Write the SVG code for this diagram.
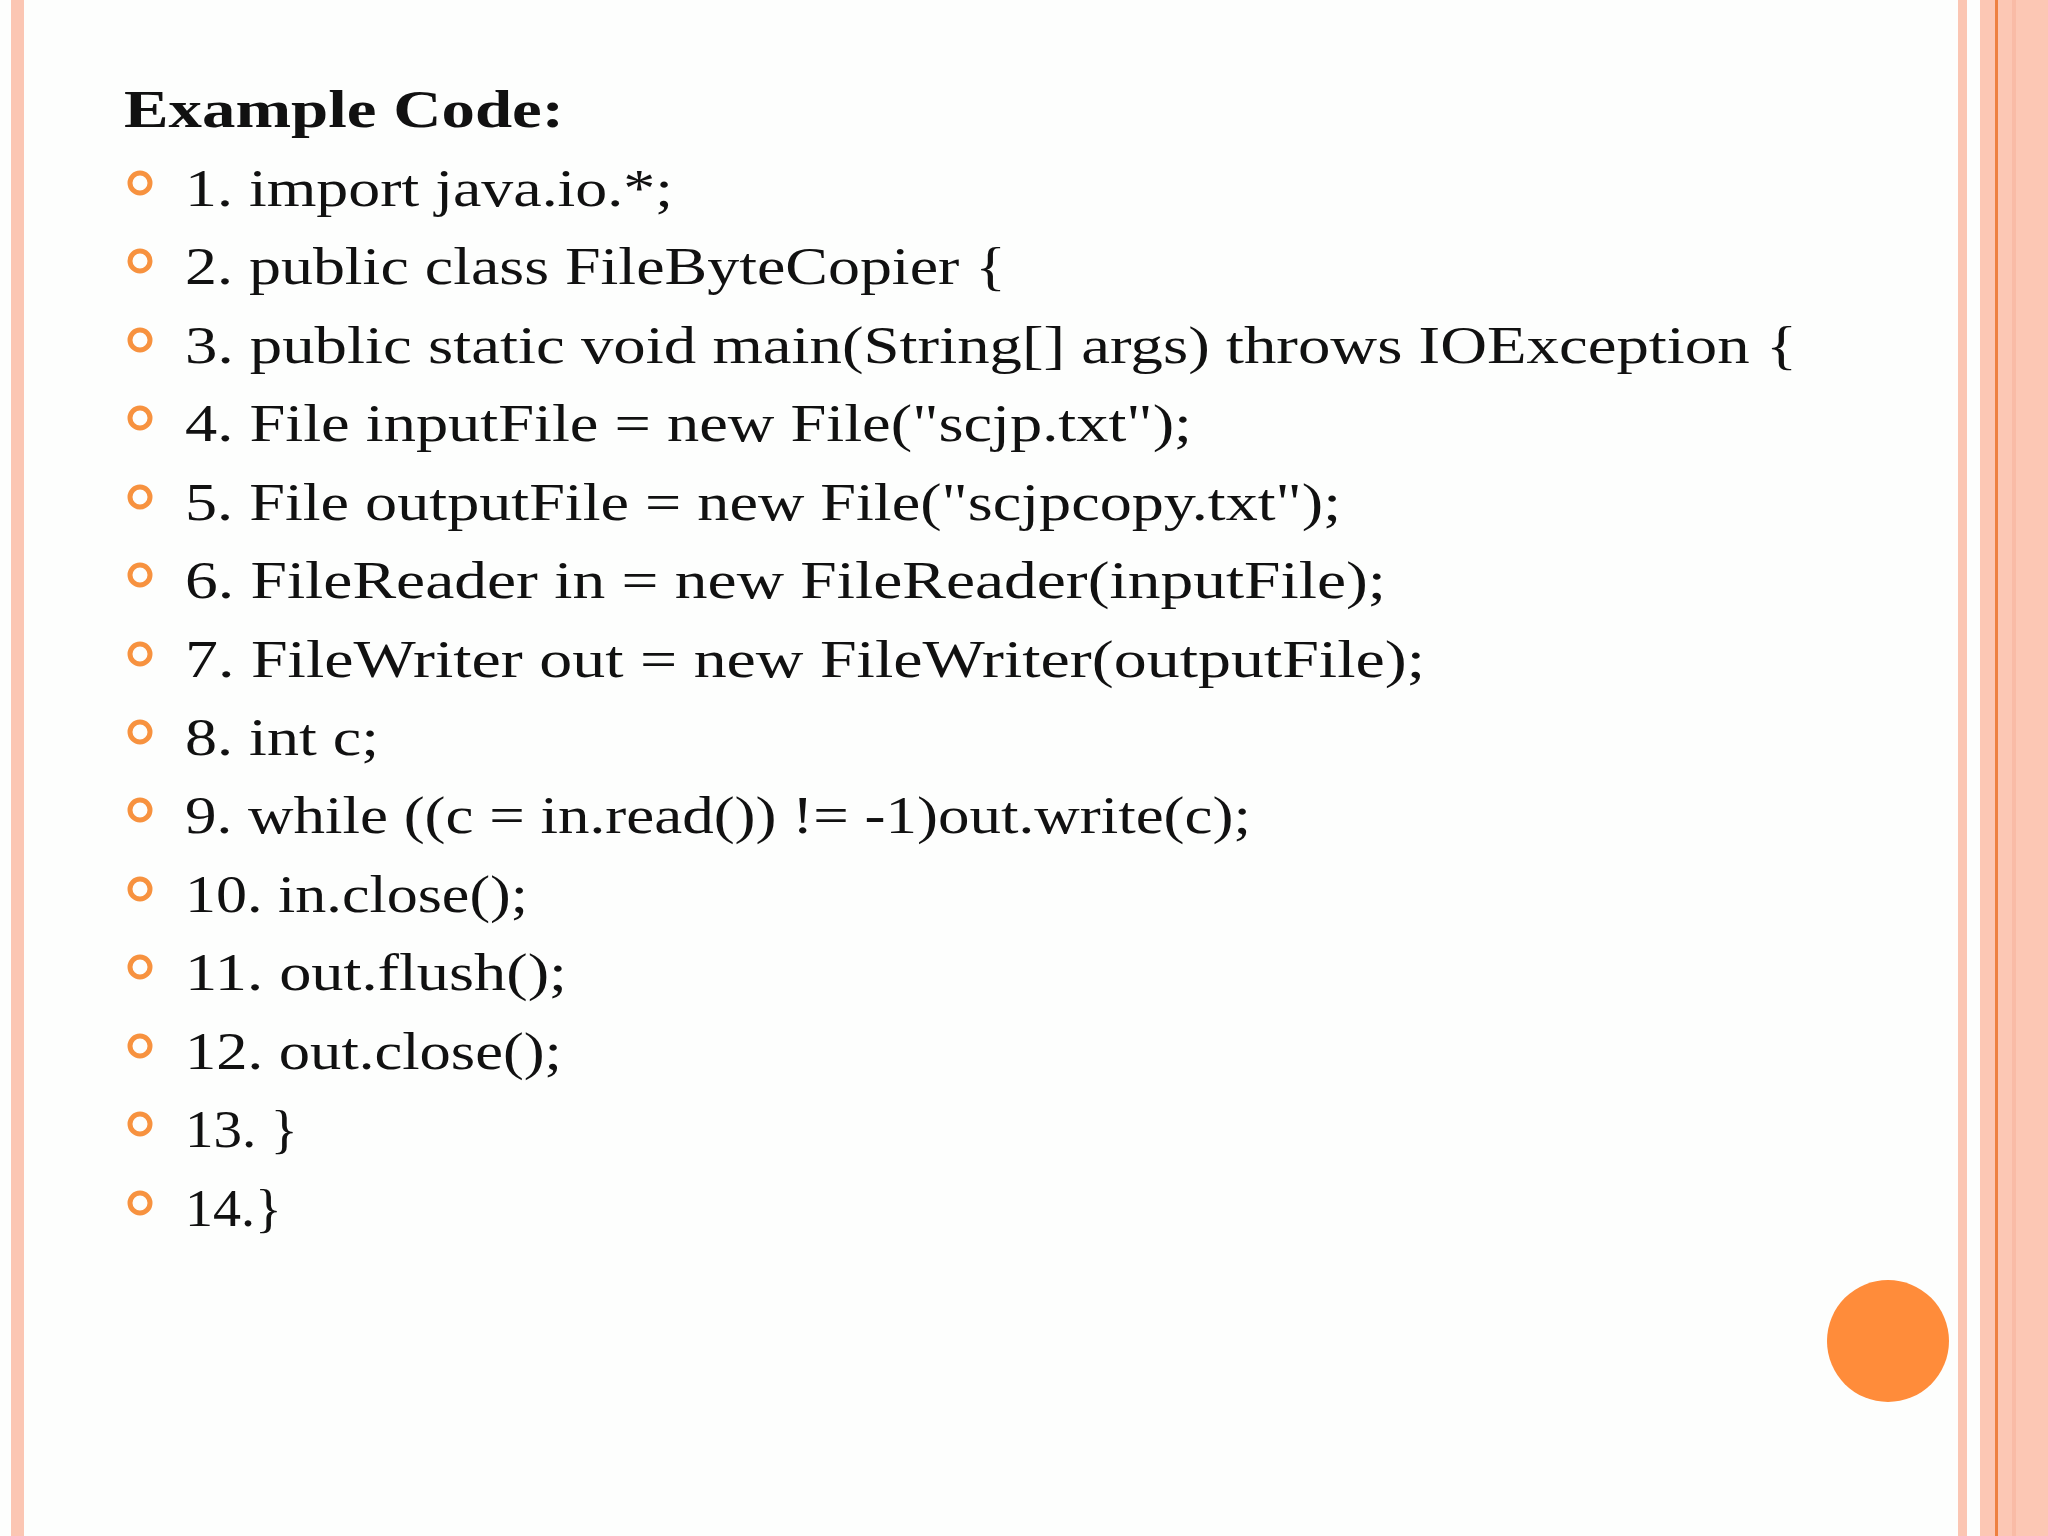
<svg xmlns="http://www.w3.org/2000/svg" width="2048" height="1536" viewBox="0 0 2048 1536">
<style>
.t{font-family:"Liberation Serif",serif;font-size:52px;fill:#111}
.b{fill:none;stroke:#F7923F;stroke-width:5}
</style>
<rect width="2048" height="1536" fill="#FDFEFD"/>
<rect x="11" y="0" width="13" height="1536" fill="#FBC6B3"/>
<rect x="1958" y="0" width="9" height="1536" fill="#FBC6B3"/>
<rect x="1980" y="0" width="68" height="1536" fill="#FCC7B4"/>
<rect x="2012" y="0" width="4" height="1536" fill="#F9BBA6"/>
<rect x="1995" y="0" width="3" height="1536" fill="#EE8040"/>
<circle cx="1888" cy="1341" r="61" fill="#FF8C3A"/>
<g id="title"><text x="124" y="127" class="t" font-weight="bold" textLength="440" lengthAdjust="spacingAndGlyphs">Example Code:</text></g>
<g id="lines">
<circle class="b" cx="140" cy="183" r="10"/><text class="t" x="185" y="206" textLength="488" lengthAdjust="spacingAndGlyphs">1. import java.io.*;</text>
<circle class="b" cx="140" cy="261" r="10"/><text class="t" x="185" y="284" textLength="821" lengthAdjust="spacingAndGlyphs">2. public class FileByteCopier {</text>
<circle class="b" cx="140" cy="340" r="10"/><text class="t" x="185" y="363" textLength="1612" lengthAdjust="spacingAndGlyphs">3. public static void main(String[] args) throws IOException {</text>
<circle class="b" cx="140" cy="418" r="10"/><text class="t" x="185" y="441" textLength="1007" lengthAdjust="spacingAndGlyphs">4. File inputFile = new File("scjp.txt");</text>
<circle class="b" cx="140" cy="497" r="10"/><text class="t" x="185" y="520" textLength="1156" lengthAdjust="spacingAndGlyphs">5. File outputFile = new File("scjpcopy.txt");</text>
<circle class="b" cx="140" cy="575" r="10"/><text class="t" x="185" y="598" textLength="1201" lengthAdjust="spacingAndGlyphs">6. FileReader in = new FileReader(inputFile);</text>
<circle class="b" cx="140" cy="654" r="10"/><text class="t" x="185" y="677" textLength="1240" lengthAdjust="spacingAndGlyphs">7. FileWriter out = new FileWriter(outputFile);</text>
<circle class="b" cx="140" cy="732" r="10"/><text class="t" x="185" y="755" textLength="194" lengthAdjust="spacingAndGlyphs">8. int c;</text>
<circle class="b" cx="140" cy="810" r="10"/><text class="t" x="185" y="833" textLength="1066" lengthAdjust="spacingAndGlyphs">9. while ((c = in.read()) != -1)out.write(c);</text>
<circle class="b" cx="140" cy="889" r="10"/><text class="t" x="185" y="912" textLength="343" lengthAdjust="spacingAndGlyphs">10. in.close();</text>
<circle class="b" cx="140" cy="967" r="10"/><text class="t" x="185" y="990" textLength="382" lengthAdjust="spacingAndGlyphs">11. out.flush();</text>
<circle class="b" cx="140" cy="1046" r="10"/><text class="t" x="185" y="1069" textLength="377" lengthAdjust="spacingAndGlyphs">12. out.close();</text>
<circle class="b" cx="140" cy="1124" r="10"/><text class="t" x="185" y="1147" textLength="113" lengthAdjust="spacingAndGlyphs">13. }</text>
<circle class="b" cx="140" cy="1203" r="10"/><text class="t" x="185" y="1226" textLength="97" lengthAdjust="spacingAndGlyphs">14.}</text>
</g>
</svg>
